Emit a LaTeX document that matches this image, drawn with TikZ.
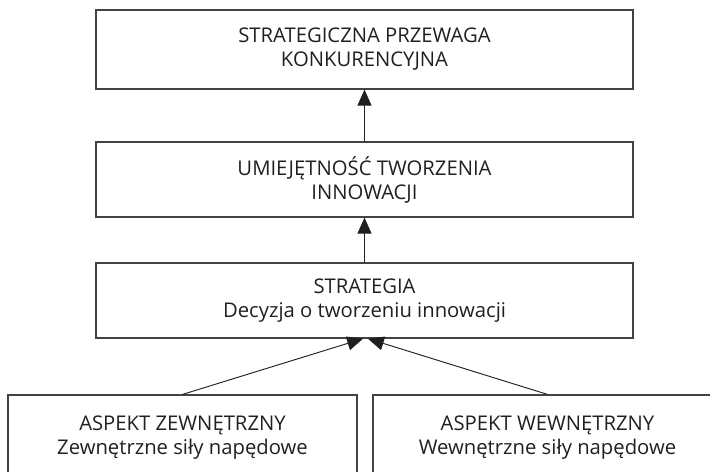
\documentclass[tikz,border=0pt]{standalone}
\usepackage{fontspec}
\setmainfont{Open Sans}
\usetikzlibrary{arrows.meta}
\definecolor{ink}{HTML}{231F20}
\begin{document}
\begin{tikzpicture}[x=0.75pt,y=-0.75pt,
    box/.style={draw=ink!85,line width=0.9pt,text=ink,align=center,inner sep=0pt,
      font=\fontsize{15.2}{18}\selectfont},
    arr/.style={draw=ink,line width=0.7pt,-{Triangle[length=12pt,width=10.5pt]}}]
  \useasboundingbox (0,0) rectangle (710,471);
  \clip (0,0) rectangle (710,471);
  \node[box,minimum width=402.75pt,minimum height=59.25pt] (przewaga) at (364.5,49.5) {STRATEGICZNA PRZEWAGA\\KONKURENCYJNA};
  \node[box,minimum width=402.75pt,minimum height=56.25pt] (umiejetnosc) at (364.5,179.5) {UMIEJĘTNOŚĆ TWORZENIA\\INNOWACJI};
  \node[box,minimum width=402.75pt,minimum height=56.25pt] (strategia) at (364.5,300.5) {STRATEGIA\\Decyzja o tworzeniu innowacji};
  \node[box,minimum width=261.75pt,minimum height=64.5pt] (zewn) at (182.5,438) {ASPEKT ZEWNĘTRZNY\\Zewnętrzne siły napędowe};
  \node[box,minimum width=261.75pt,minimum height=64.5pt] (wewn) at (547.5,438) {ASPEKT WEWNĘTRZNY\\Wewnętrzne siły napędowe};
  \draw[arr] (umiejetnosc) -- (przewaga);
  \draw[arr] (strategia) -- (umiejetnosc);
  \draw[arr] (zewn.north) -- ([xshift=-1pt]strategia.south);
  \draw[arr] (wewn.north) -- ([xshift=2.5pt]strategia.south);
\end{tikzpicture}
\end{document}
